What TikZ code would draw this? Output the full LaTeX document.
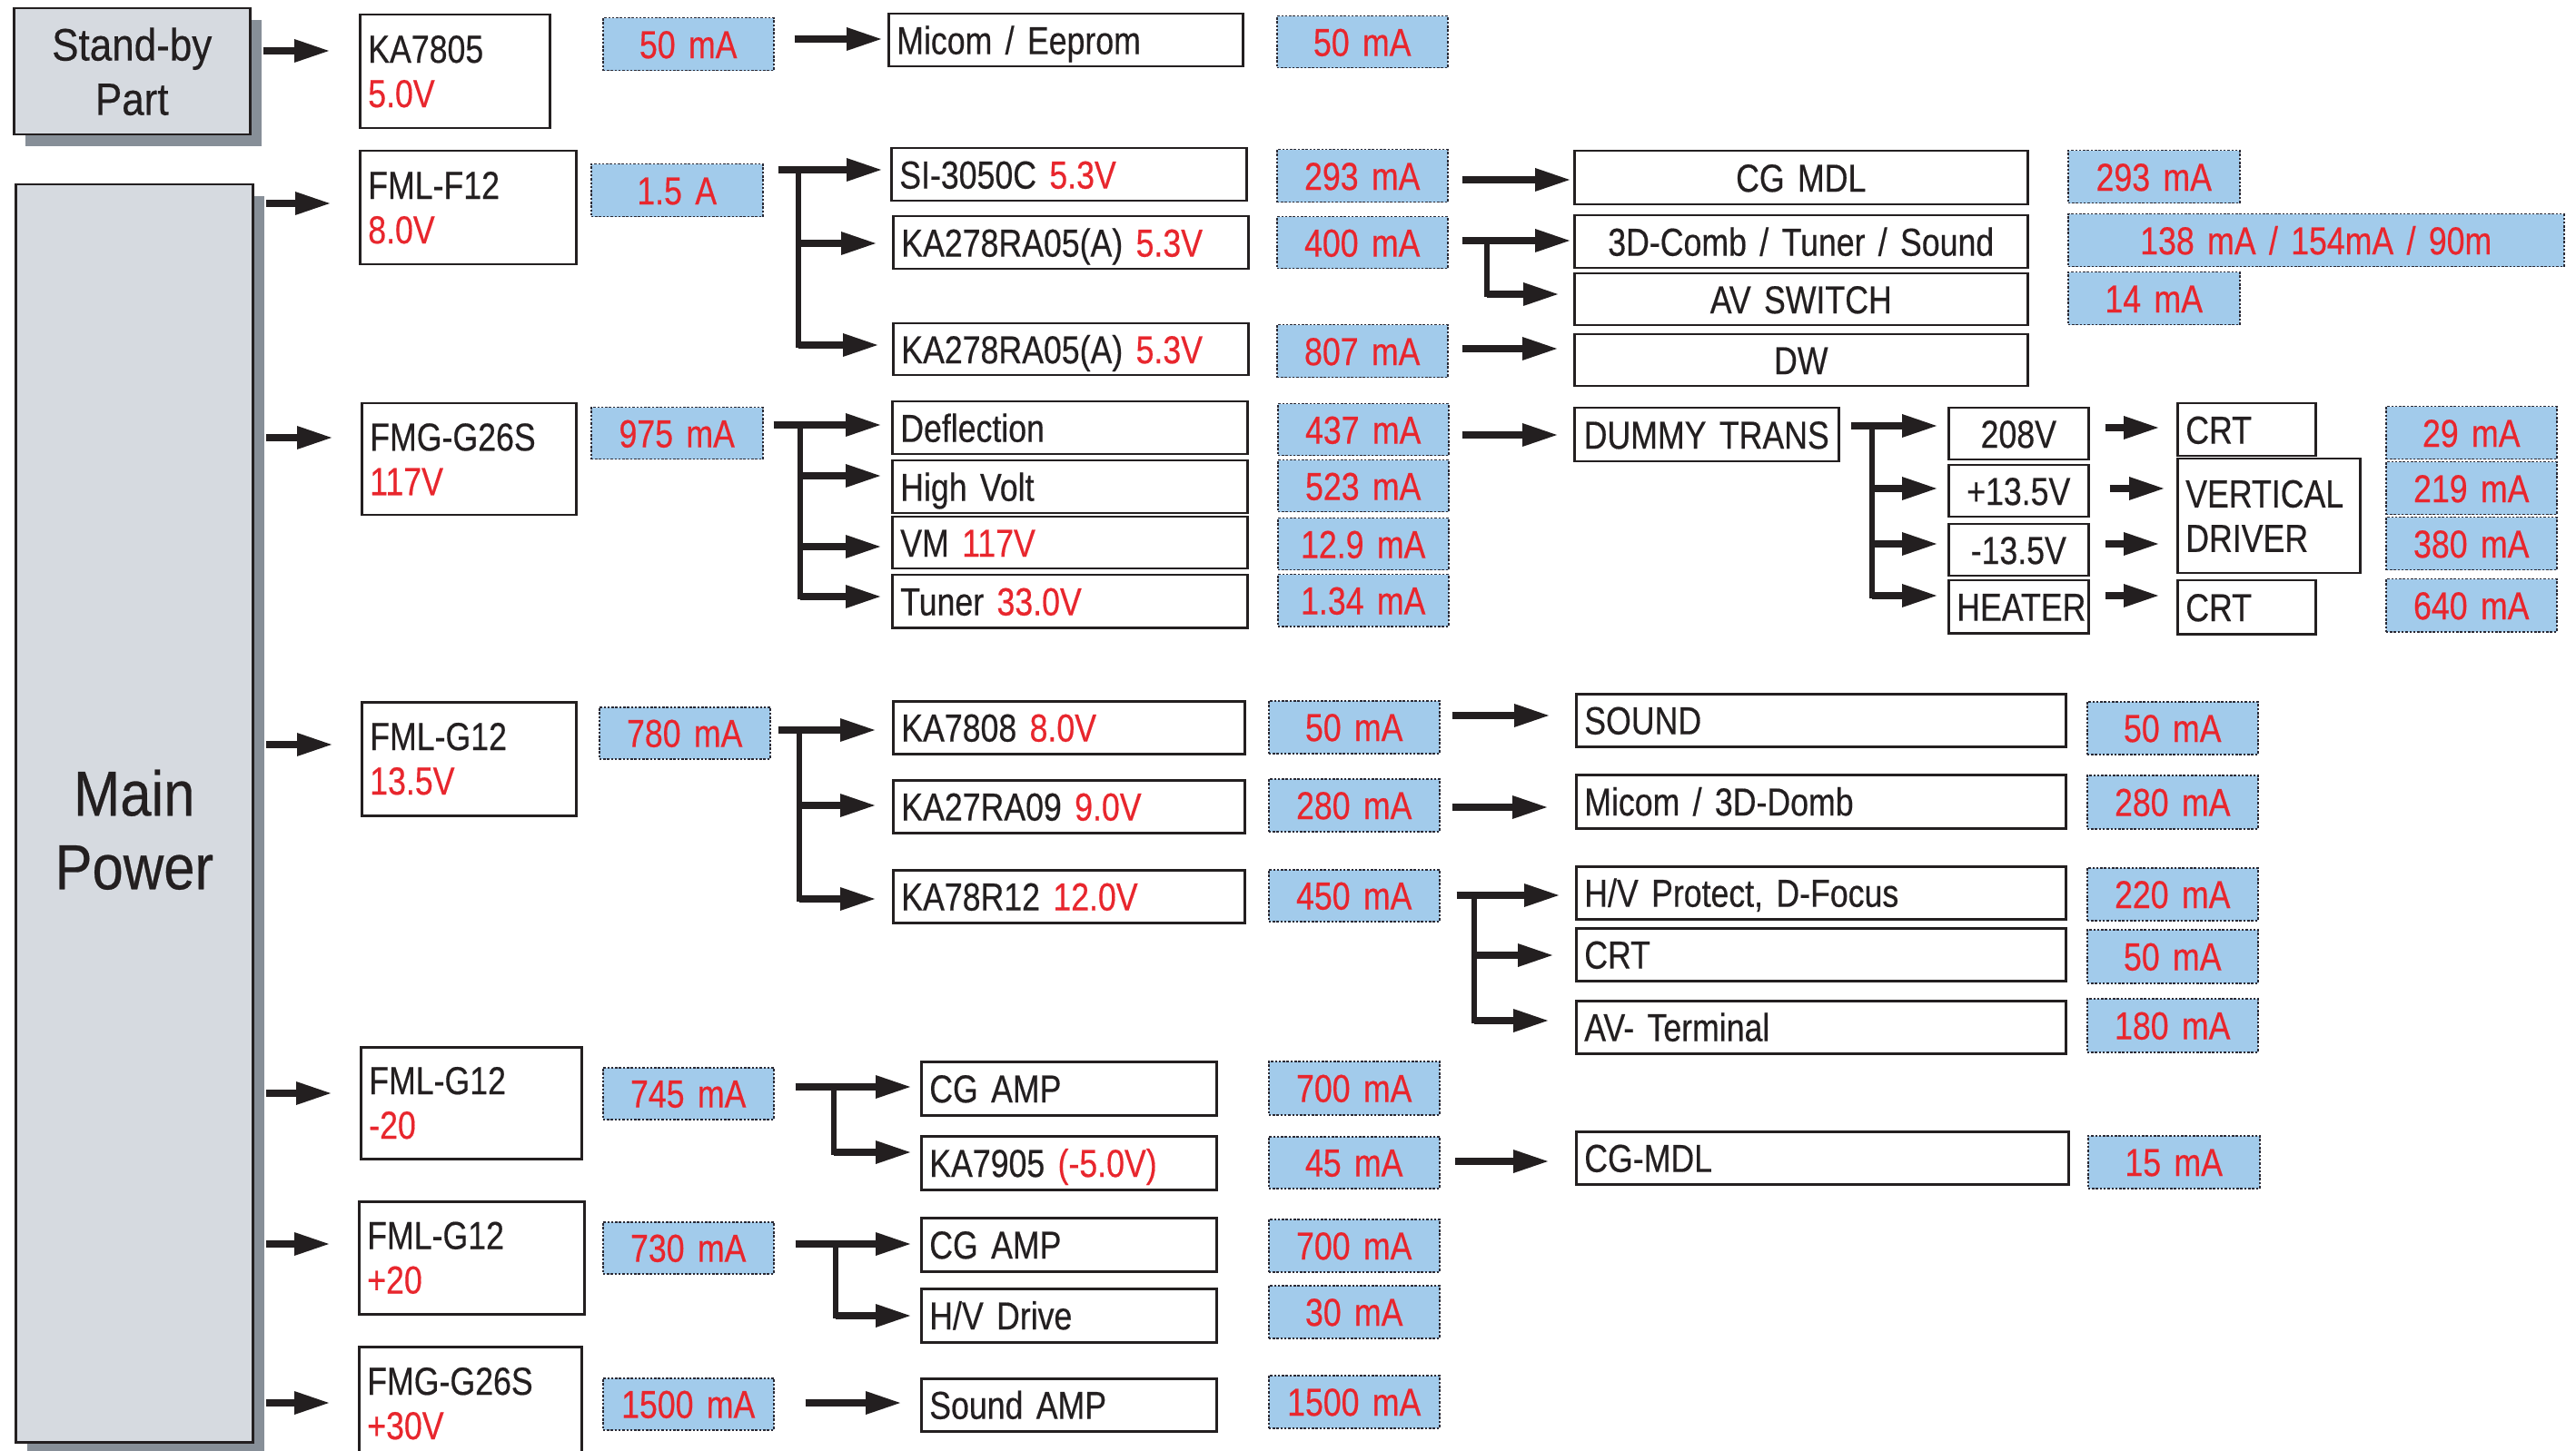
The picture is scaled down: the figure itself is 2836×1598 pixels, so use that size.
\documentclass[tikz,border=0pt]{standalone}
\usepackage{fontspec}
\setmainfont[FakeStretch=0.83,WordSpace=0.8,FakeBold=0.4]{Liberation Sans}
\newfontfamily\bigf[FakeStretch=0.88,FakeBold=0.4]{Liberation Sans}
\usetikzlibrary{arrows.meta,calc,shadows}
\definecolor{redt}{HTML}{E8262D}
\definecolor{bluef}{HTML}{A2CBEB}
\definecolor{grayf}{HTML}{D6DAE0}
\definecolor{shad}{HTML}{878F98}
\definecolor{ink}{HTML}{231F20}
\definecolor{dotc}{HTML}{2A2A35}
\newcommand\rd[1]{\textcolor{redt}{#1}}
\newcommand\ndpad{4.5}
\newcommand\nd[7][]{%
  \pgfmathsetmacro\ndw{(#5-#3)*0.5}%
  \pgfmathsetmacro\ndh{(#6-#4)*0.5}%
  \pgfmathsetmacro\ndt{\ndw-2*\ndpad}%
  \node[#1, anchor=north west, minimum width=\ndw pt, minimum height=\ndh pt,
        text width=\ndt pt, inner xsep=\ndpad pt, inner ysep=0pt] (#2) at (#3,#4) {#7};}
\newcommand\harr[5]{%
  \path (#1.east) ++(#4,0) coordinate (hS) (#2.west) ++(-#5,0) coordinate (hE);
  \draw[arr] (hS |- 0,#3) -- (hE |- 0,#3);}
\newcommand\barr[4]{%
  \path (#1.west) ++(-#4,0) coordinate (hE);
  \draw[arr] (#2,#3) -- (hE |- 0,#3);}
\newcommand\vbus[3]{\draw[bus] (#1,#2) -- (#1,#3);}
\begin{document}
\begin{tikzpicture}[x=0.5pt,y=-0.5pt,
  base/.style={font=\fontsize{21.5pt}{24.5pt}\selectfont, text=ink, text height=15.4pt, text depth=0pt},
  bx/.style={base, draw=ink, line width=1.25pt, fill=white, align=left},
  bxc/.style={bx, align=center},
  cur/.style={base, draw=dotc, fill=bluef, line width=0.75pt, dash pattern=on 1.25pt off 0.9pt, text=redt, align=center},
  two/.style={text height={}, text depth={}},
  gbox/.style={draw=ink, line width=1.25pt, fill=grayf, align=center, text=ink,
     drop shadow={shadow xshift=6.5pt, shadow yshift=-6.5pt, fill=shad, opacity=1}},
  arr/.style={draw=ink, line width=4pt, -{Triangle[length=19pt,width=13pt,line width=0pt]}},
  bus/.style={draw=ink, line width=3pt, line cap=rect}]
\path[use as bounding box] (0,0) rectangle (2836,1598);
\fill[white] (0,0) rectangle (2836,1598);
\clip (0,0) rectangle (2836,1598);

% power sources
\nd[gbox,font=\bigf\fontsize{25pt}{30pt}\selectfont]{sb}{14}{8}{274}{147}{Stand-by\\Part}
\nd[gbox,font=\bigf\fontsize{35pt}{40.5pt}\selectfont,text height=43pt,text depth=40.5pt]{mp}{16}{202}{277}{1587}{Main\\Power}

% regulators
\nd[bx,two]{ka7805}{395}{15}{604}{140}{KA7805\\\rd{5.0V}}
\nd[bx,two]{fmlf12}{395}{165}{633}{290}{FML-F12\\\rd{8.0V}}
\nd[bx,two]{fmg1}{397}{443}{633}{566}{FMG-G26S\\\rd{117V}}
\nd[bx,two]{fmlg1}{397}{772}{633}{897}{FML-G12\\\rd{13.5V}}
\nd[bx,two]{fmlg2}{396}{1152}{639}{1275}{FML-G12\\\rd{-20}}
\nd[bx,two]{fmlg3}{394}{1322}{642}{1446}{FML-G12\\\rd{+20}}
\nd[bx,two]{fmg2}{394}{1482}{639}{1607}{FMG-G26S\\\rd{+30V}}

% first currents
\nd[cur]{c50a}{663}{19}{851}{77}{50 mA}
\nd[cur]{c15}{650}{180}{839}{238}{1.5 A}
\nd[cur]{c975}{650}{448}{839}{505}{975 mA}
\nd[cur]{c780}{659}{778}{847}{835}{780 mA}
\nd[cur]{c745}{663}{1175}{851}{1232}{745 mA}
\nd[cur]{c730}{663}{1345}{851}{1402}{730 mA}
\nd[cur]{c1500}{663}{1517}{851}{1574}{1500 mA}

% second column boxes
\nd[bx]{micom}{977}{14}{1367}{72}{Micom / Eeprom}
\nd[bx]{si}{980}{162}{1371}{220}{SI-3050C \rd{5.3V}}
\nd[bx]{ka1}{982}{237}{1373}{295}{KA278RA05(A) \rd{5.3V}}
\nd[bx]{ka2}{982}{355}{1373}{412}{KA278RA05(A) \rd{5.3V}}
\nd[bx]{defl}{981}{441}{1372}{499}{Deflection}
\nd[bx]{hv}{981}{506}{1372}{564}{High Volt}
\nd[bx]{vm}{981}{568}{1372}{625}{VM \rd{117V}}
\nd[bx]{tun}{981}{632}{1372}{690}{Tuner \rd{33.0V}}
\nd[bx]{ka7808}{982}{771}{1369}{829}{KA7808 \rd{8.0V}}
\nd[bx]{ka27}{982}{858}{1369}{916}{KA27RA09 \rd{9.0V}}
\nd[bx]{ka78}{982}{957}{1369}{1015}{KA78R12 \rd{12.0V}}
\nd[bx]{cga1}{1013}{1168}{1338}{1227}{CG AMP}
\nd[bx]{ka7905}{1013}{1250}{1338}{1309}{KA7905 \rd{(-5.0V)}}
\nd[bx]{cga2}{1013}{1340}{1338}{1399}{CG AMP}
\nd[bx]{hvd}{1013}{1418}{1338}{1477}{H/V Drive}
\nd[bx]{samp}{1013}{1517}{1338}{1575}{Sound AMP}

% second currents
\nd[cur]{d50a}{1405}{17}{1593}{74}{50 mA}
\nd[cur]{d293}{1405}{164}{1593}{222}{293 mA}
\nd[cur]{d400}{1405}{238}{1593}{295}{400 mA}
\nd[cur]{d807}{1405}{357}{1593}{415}{807 mA}
\nd[cur]{d437}{1406}{444}{1594}{501}{437 mA}
\nd[cur]{d523}{1406}{506}{1594}{563}{523 mA}
\nd[cur]{d129}{1406}{570}{1594}{627}{12.9 mA}
\nd[cur]{d134}{1406}{632}{1594}{689}{1.34 mA}
\nd[cur]{d50b}{1396}{771}{1584}{829}{50 mA}
\nd[cur]{d280}{1396}{857}{1584}{915}{280 mA}
\nd[cur]{d450}{1396}{957}{1584}{1014}{450 mA}
\nd[cur]{d700a}{1396}{1168}{1584}{1227}{700 mA}
\nd[cur]{d45}{1396}{1251}{1584}{1308}{45 mA}
\nd[cur]{d700b}{1396}{1342}{1584}{1400}{700 mA}
\nd[cur]{d30}{1396}{1415}{1584}{1473}{30 mA}
\nd[cur]{d1500}{1396}{1514}{1584}{1572}{1500 mA}

% loads
\nd[bxc]{cgmdl}{1732}{165}{2231}{224}{CG MDL}
\nd[bxc]{comb}{1732}{236}{2231}{294}{3D-Comb / Tuner / Sound}
\nd[bxc]{avs}{1732}{300}{2231}{357}{AV SWITCH}
\nd[bxc]{dw}{1732}{367}{2231}{424}{DW}
\nd[bxc]{dummy}{1732}{448}{2023}{507}{DUMMY TRANS}
\nd[bx]{sound}{1734}{763}{2273}{821}{SOUND}
\nd[bx]{micom2}{1734}{852}{2273}{911}{Micom / 3D-Domb}
\nd[bx]{hvp}{1734}{953}{2273}{1011}{H/V Protect, D-Focus}
\nd[bx]{crt1}{1734}{1021}{2273}{1079}{CRT}
\nd[bx]{avt}{1734}{1101}{2273}{1159}{AV- Terminal}
\nd[bx]{cgmdl2}{1734}{1245}{2276}{1303}{CG-MDL}

% load currents
\nd[cur]{f293}{2276}{165}{2465}{223}{293 mA}
\nd[cur]{f138}{2276}{235}{2822}{293}{138 mA / 154mA / 90m}
\nd[cur]{f14}{2276}{299}{2465}{357}{14 mA}
\nd[cur]{f50a}{2297}{772}{2485}{830}{50 mA}
\nd[cur]{f280}{2297}{853}{2485}{912}{280 mA}
\nd[cur]{f220}{2297}{955}{2485}{1013}{220 mA}
\nd[cur]{f50b}{2297}{1023}{2485}{1082}{50 mA}
\nd[cur]{f180}{2297}{1099}{2485}{1158}{180 mA}
\nd[cur]{f15}{2298}{1250}{2487}{1308}{15 mA}

% dummy trans subtree
\nd[bxc]{v208}{2144}{448}{2298}{505}{208V}
\nd[bxc]{vp}{2144}{511}{2298}{568}{+13.5V}
\nd[bxc]{vm2}{2144}{576}{2298}{633}{-13.5V}
\nd[bxc]{heat}{2144}{638}{2298}{696}{HEATER}
\nd[bx]{crta}{2396}{443}{2548}{501}{CRT}
\nd[bx,two]{vd}{2396}{504}{2597}{630}{VERTICAL\\DRIVER}
\nd[bx]{crtb}{2396}{638}{2548}{697}{CRT}
\nd[cur]{m29}{2626}{447}{2814}{505}{29 mA}
\nd[cur]{m219}{2626}{508}{2814}{566}{219 mA}
\nd[cur]{m380}{2626}{569}{2814}{627}{380 mA}
\nd[cur]{m640}{2626}{637}{2814}{695}{640 mA}

% connectors
\harr{sb}{ka7805}{56}{13}{33}
\harr{mp}{fmlf12}{224}{13}{32}
\harr{mp}{fmg1}{482}{13}{32}
\harr{mp}{fmlg1}{820}{13}{32}
\harr{mp}{fmlg2}{1204}{13}{32}
\harr{mp}{fmlg3}{1370}{13}{32}
\harr{mp}{fmg2}{1545}{13}{32}
\harr{c50a}{micom}{43}{22}{7}
\harr{c15}{si}{187}{16}{10}
\vbus{879}{187}{380} \barr{ka1}{879}{268}{18} \barr{ka2}{879}{380}{16}
\harr{c975}{defl}{468}{11}{12}
\vbus{881}{468}{657} \barr{hv}{881}{524}{12} \barr{vm}{881}{602}{12} \barr{tun}{881}{657}{12}
\harr{c780}{ka7808}{804}{8}{19}
\vbus{880}{804}{990} \barr{ka27}{880}{887}{19} \barr{ka78}{880}{990}{19}
\harr{c745}{cga1}{1197}{23}{11}
\vbus{918}{1197}{1269} \barr{ka7905}{918}{1269}{11}
\harr{c730}{cga2}{1370}{23}{11}
\vbus{920}{1370}{1449} \barr{hvd}{920}{1449}{11}
\harr{c1500}{samp}{1545}{34}{22}
\harr{d293}{cgmdl}{198}{15}{4}
\harr{d400}{comb}{265}{15}{4}
\vbus{1637}{265}{324} \barr{avs}{1637}{324}{17}
\harr{d807}{dw}{384}{15}{18}
\harr{d437}{dummy}{479}{14}{18}
\harr{d50b}{sound}{788}{13}{29}
\harr{d280}{micom2}{889}{13}{31}
\harr{d450}{hvp}{986}{18}{18}
\vbus{1623}{986}{1124} \barr{crt1}{1623}{1052}{25} \barr{avt}{1623}{1124}{30}
\harr{d45}{cgmdl2}{1279}{16}{30}
\harr{dummy}{v208}{469}{12}{12}
\vbus{2061}{469}{656} \barr{vp}{2061}{538}{12} \barr{vm2}{2061}{599}{12} \barr{heat}{2061}{656}{12}
\harr{v208}{crta}{471}{17}{20}
\harr{vp}{vd}{538}{22}{14}
\harr{vm2}{vd}{599}{17}{20}
\harr{heat}{crtb}{656}{17}{20}
\end{tikzpicture}
\end{document}
